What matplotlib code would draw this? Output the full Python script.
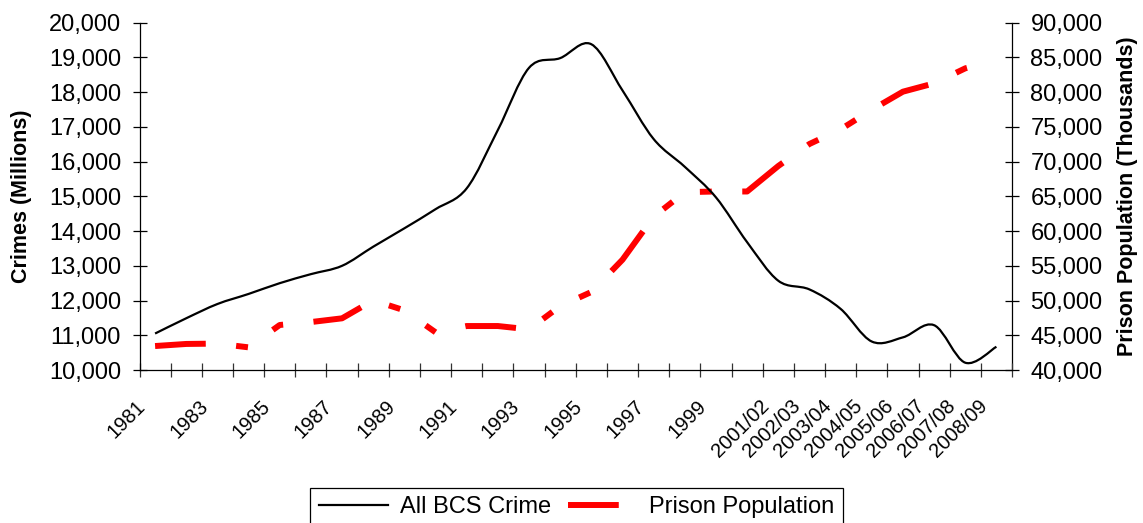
import numpy as np
import matplotlib
matplotlib.use("Agg")
import matplotlib.pyplot as plt
from matplotlib.path import Path
from matplotlib.patches import PathPatch
from matplotlib.lines import Line2D
from matplotlib.ticker import FuncFormatter, FixedLocator, NullFormatter
from matplotlib.transforms import ScaledTranslation

plt.rcParams["font.family"] = ["Liberation Sans", "DejaVu Sans"]

# ---- data -------------------------------------------------------------
categories = [str(y) for y in range(1981, 2001)] + [
    "2001/02", "2002/03", "2003/04", "2004/05",
    "2005/06", "2006/07", "2007/08", "2008/09",
]
tick_labels = [
    "1981", "", "1983", "", "1985", "", "1987", "", "1989", "",
    "1991", "", "1993", "", "1995", "", "1997", "", "1999", "",
    "2001/02", "2002/03", "2003/04", "2004/05",
    "2005/06", "2006/07", "2007/08", "2008/09",
]
bcs_crime = [
    11050, 11490, 11900, 12190, 12500, 12760, 13000, 13550, 14080, 14630,
    15230, 16910, 18700, 18980, 19380, 18050, 16650, 15850, 14970, 13680,
    12570, 12320, 11760, 10820, 10940, 11290, 10210, 10670,
]
prison_population = [
    43450, 43750, 43800, 43260, 46480, 46900, 47440, 50030, 48590, 45430,
    46330, 46330, 45850, 49200, 51230, 55880, 62070, 65600, 65700, 65700,
    69370, 72540, 74650, 77470, 80070, 81270, 83430, 84640,
]

# ---- figure -----------------------------------------------------------
W, H, DPI = 1143, 523, 100
fig = plt.figure(figsize=(W / DPI, H / DPI), dpi=DPI)
ax = fig.add_axes([139.5 / W, 1 - 370 / H, (1012 - 139.5) / W, (370 - 22.7) / H])
ax2 = ax.twinx()

x = np.arange(len(categories))


def smooth_path(xs, ys):
    """Bezier path through the points (Catmull-Rom style smoothing)."""
    pts = np.column_stack([xs, ys]).astype(float)
    n = len(pts)
    verts = [pts[0]]
    codes = [Path.MOVETO]
    for i in range(n - 1):
        p0 = pts[i - 1] if i > 0 else pts[i]
        p1 = pts[i]
        p2 = pts[i + 1]
        p3 = pts[i + 2] if i + 2 < n else pts[i + 1]
        c1 = p1 + (p2 - p0) / 6.0
        c2 = p2 - (p3 - p1) / 6.0
        verts += [c1, c2, p2]
        codes += [Path.CURVE4] * 3
    return Path(verts, codes)


crime_patch = PathPatch(smooth_path(x, bcs_crime), facecolor="none",
                        edgecolor="black", linewidth=1.6, zorder=3,
                        capstyle="butt", joinstyle="round")
ax.add_patch(crime_patch)

# long dash - dot - dot
dash_pattern = (0, (8.5, 5.1, 2.0, 5.1, 2.0, 5.1))
ax2.plot(x, prison_population, color="#ff0000", linewidth=4.3,
         linestyle=dash_pattern, dash_capstyle="butt", solid_joinstyle="miter",
         zorder=3)

# ---- axes -------------------------------------------------------------
ax.set_xlim(-0.5, len(categories) - 0.5)
ax.set_ylim(10000, 20000)
ax2.set_ylim(40000, 90000)
ax.set_yticks(np.arange(10000, 20001, 1000))
ax2.set_yticks(np.arange(40000, 90001, 5000))
fmt = FuncFormatter(lambda v, p: f"{v:,.0f}")
ax.yaxis.set_major_formatter(fmt)
ax2.yaxis.set_major_formatter(fmt)

# boundary ticks between categories; category labels drawn below them
ax.xaxis.set_major_locator(FixedLocator(np.arange(-0.5, len(categories), 1.0)))
ax.xaxis.set_major_formatter(NullFormatter())
ax.tick_params(axis="x", which="major", direction="inout", length=10,
               width=0.9, color="#333333")
ax.tick_params(axis="y", which="major", direction="inout", length=10.5,
               width=0.9, labelsize=17, pad=8)
ax2.tick_params(axis="y", which="major", direction="inout", length=10.5,
                width=0.9, labelsize=17, pad=8)

label_shift = ScaledTranslation(-8.5 / DPI, -37 / DPI, fig.dpi_scale_trans)
for xi, lab in zip(x, tick_labels):
    if lab:
        ax.text(xi, 0, lab, transform=ax.get_xaxis_transform() + label_shift,
                rotation=45, ha="right", va="baseline",
                rotation_mode="anchor", fontsize=14.5, clip_on=False)

for a in (ax, ax2):
    a.spines["top"].set_visible(False)
    for s in ("left", "right", "bottom"):
        a.spines[s].set_linewidth(0.9)
ax.spines["right"].set_visible(False)
ax2.spines["left"].set_visible(False)
ax2.spines["bottom"].set_visible(False)
ax.set_zorder(ax2.get_zorder() + 1)
ax.patch.set_visible(False)

# axis titles
ymid = 1 - ((370 + 22.7) / 2) / H
fig.text(21.5 / W, ymid, "Crimes (Millions)", rotation=90, ha="center",
         va="center", fontsize=15.5, fontweight="bold")
fig.text(1128 / W, ymid, "Prison Population (Thousands)", rotation=90,
         ha="center", va="center", fontsize=15.5, fontweight="bold")

# legend
handles = [
    Line2D([], [], color="black", linewidth=1.6),
    Line2D([], [], color="#ff0000", linewidth=4.3, linestyle=dash_pattern,
           dash_capstyle="butt"),
]
leg = fig.legend(handles, ["All BCS Crime", "Prison Population"], ncol=2,
                 loc="upper center", bbox_to_anchor=(576.5 / W, 1 - 488 / H),
                 bbox_transform=fig.transFigure, fontsize=17, frameon=True,
                 fancybox=False, edgecolor="black", framealpha=1,
                 handlelength=2.95, handletextpad=0.5, columnspacing=0.7,
                 borderpad=0.35, borderaxespad=0)
leg.get_frame().set_linewidth(0.9)

fig.savefig("out.png", dpi=DPI)
